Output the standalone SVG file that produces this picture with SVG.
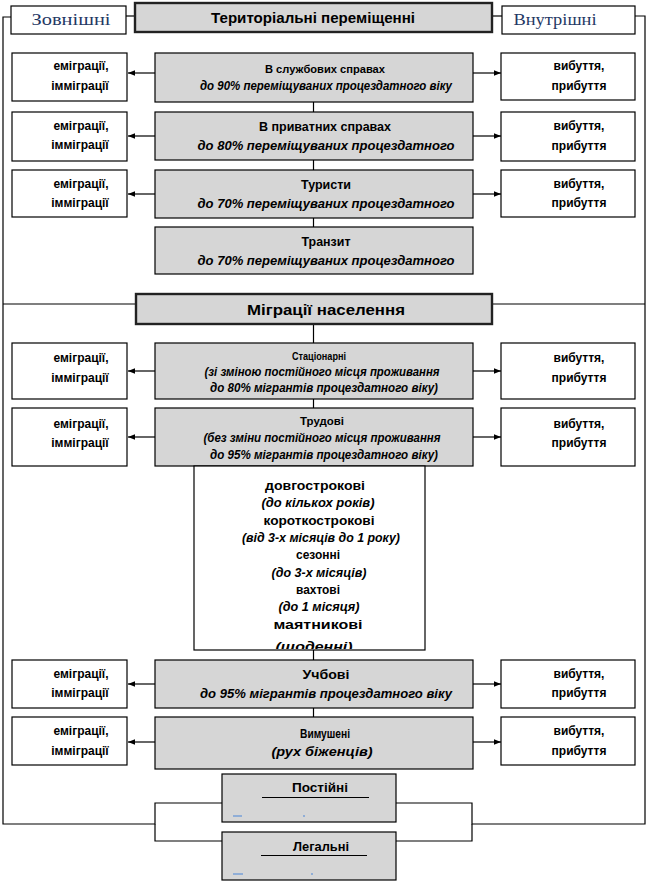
<svg xmlns="http://www.w3.org/2000/svg" width="646" height="884" viewBox="0 0 646 884">
<defs>
<style>
.w{fill:#fff;stroke:#000;stroke-width:1.2}
.g{fill:#d6d6d6;stroke:#000;stroke-width:1.2}
.t{fill:#d6d6d6;stroke:#222;stroke-width:2.4}
.ln{fill:none;stroke:#000;stroke-width:1.2}
.b{font-family:"Liberation Sans",Arial,sans-serif;font-weight:bold;font-size:12px;fill:#000;text-anchor:middle}
.s{font-size:10px}
.i{font-family:"Liberation Sans",Arial,sans-serif;font-weight:bold;font-style:italic;font-size:12px;fill:#000;text-anchor:middle}
.h{font-family:"Liberation Sans",Arial,sans-serif;font-weight:bold;font-size:14px;fill:#000;text-anchor:middle}
.v{font-family:"Liberation Serif","Times New Roman",serif;font-size:16px;fill:#1f3864;text-anchor:middle}
.bl{fill:#4a86d8}
</style>
<marker id="ar" viewBox="0 0 10 10" refX="10" refY="5" markerWidth="6" markerHeight="6" orient="auto">
<path d="M0,1 L10,5 L0,9 z" fill="#000"/>
</marker>
<clipPath id="subclip"><rect x="194" y="466" width="231" height="183"/></clipPath>
</defs>

<g id="connectors">
<path class="ln" d="M11,17 H3 V824 H155 V803 H222"/>
<path class="ln" d="M155,824 V841 H222"/>
<path class="ln" d="M126,16 H135"/>
<path class="ln" d="M492,16 H502"/>
<path class="ln" d="M635,16 H645 V824 H472 V803 H396"/>
<path class="ln" d="M472,824 V841 H396"/>
<path class="ln" d="M3,304 H136"/>
<path class="ln" d="M492,304 H645"/>
<path class="ln" d="M313.5,102 V112 M313.5,160 V170 M313.5,218 V227 M313.5,324 V343 M313.5,399 V408 M313.5,650 V660 M313.5,708 V717"/>
<g class="ln" marker-end="url(#ar)">
<path d="M155,73 H128"/><path d="M473,73 H501"/>
<path d="M155,136 H128"/><path d="M473,136 H501"/>
<path d="M155,194 H128"/><path d="M473,194 H501"/>
<path d="M155,371 H128"/><path d="M473,371 H501"/>
<path d="M155,437 H128"/><path d="M473,437 H501"/>
<path d="M155,684 H128"/><path d="M473,684 H501"/>
<path d="M155,742 H128"/><path d="M473,742 H501"/>
</g>
</g>

<g id="title-territorial"><rect class="t" x="135" y="3" width="357" height="29"/><text class="h" x="313" y="23" textLength="204" lengthAdjust="spacingAndGlyphs">Територіальні переміщенні</text></g>
<g id="external"><rect class="w" x="11" y="6" width="115" height="28"/><text class="v" x="71" y="25" textLength="79" lengthAdjust="spacingAndGlyphs">Зовнішні</text></g>
<g id="internal"><rect class="w" x="502" y="6" width="133" height="28"/><text class="v" x="555" y="25" textLength="83" lengthAdjust="spacingAndGlyphs">Внутрішні</text></g>

<g id="row1-left"><rect class="w" x="12" y="53" width="115" height="48"/><text class="b" x="81" y="70">еміграції,</text><text class="b" x="80" y="90">імміграції</text></g>
<g id="row1"><rect class="g" x="155" y="53" width="318" height="49"/><text class="b s" x="325" y="73" textLength="120" lengthAdjust="spacingAndGlyphs">В службових  справах</text><text class="i s" x="326" y="90" textLength="252" lengthAdjust="spacingAndGlyphs">до 90% переміщуваних  процездатного  віку</text></g>
<g id="row1-right"><rect class="w" x="501" y="53" width="134" height="47"/><text class="b" x="579" y="70">вибуття,</text><text class="b" x="579" y="90">прибуття</text></g>

<g id="row2-left"><rect class="w" x="12" y="112" width="115" height="49"/><text class="b" x="81" y="130">еміграції,</text><text class="b" x="80" y="149">імміграції</text></g>
<g id="row2"><rect class="g" x="155" y="112" width="318" height="48"/><text class="b" x="325" y="131" textLength="132" lengthAdjust="spacingAndGlyphs">В приватних справах</text><text class="i" x="326" y="150" textLength="257" lengthAdjust="spacingAndGlyphs">до 80% переміщуваних процездатного</text></g>
<g id="row2-right"><rect class="w" x="501" y="112" width="134" height="49"/><text class="b" x="579" y="130">вибуття,</text><text class="b" x="579" y="150">прибуття</text></g>

<g id="row3-left"><rect class="w" x="12" y="170" width="115" height="47"/><text class="b" x="81" y="188">еміграції,</text><text class="b" x="80" y="207">імміграції</text></g>
<g id="row3"><rect class="g" x="155" y="170" width="318" height="48"/><text class="b" x="326" y="189" textLength="50" lengthAdjust="spacingAndGlyphs">Туристи</text><text class="i" x="326" y="208" textLength="257" lengthAdjust="spacingAndGlyphs">до 70% переміщуваних процездатного</text></g>
<g id="row3-right"><rect class="w" x="501" y="170" width="134" height="47"/><text class="b" x="579" y="188">вибуття,</text><text class="b" x="579" y="207">прибуття</text></g>

<g id="transit"><rect class="g" x="155" y="227" width="318" height="47"/><text class="b" x="326" y="246" textLength="49" lengthAdjust="spacingAndGlyphs">Транзит</text><text class="i" x="326" y="265" textLength="257" lengthAdjust="spacingAndGlyphs">до 70% переміщуваних процездатного</text></g>

<g id="title-migration"><rect class="t" x="136" y="294" width="356" height="30"/><text class="h" x="326" y="315" textLength="158" lengthAdjust="spacingAndGlyphs">Міграції населення</text></g>

<g id="stat-left"><rect class="w" x="12" y="343" width="115" height="56"/><text class="b" x="81" y="362">еміграції,</text><text class="b" x="80" y="382">імміграції</text></g>
<g id="stat"><rect class="g" x="155" y="343" width="318" height="56"/><text class="b s" x="319" y="360" textLength="54" lengthAdjust="spacingAndGlyphs">Стаціонарні</text><text class="i s" x="322" y="376" textLength="235" lengthAdjust="spacingAndGlyphs">(зі зміною постійного  місця  проживання</text><text class="i s" x="324" y="392" textLength="228" lengthAdjust="spacingAndGlyphs">до 80% мігрантів  процездатного  віку)</text></g>
<g id="stat-right"><rect class="w" x="501" y="343" width="134" height="56"/><text class="b" x="579" y="362">вибуття,</text><text class="b" x="579" y="382">прибуття</text></g>

<g id="labour-left"><rect class="w" x="12" y="408" width="115" height="58"/><text class="b" x="81" y="428">еміграції,</text><text class="b" x="80" y="447">імміграції</text></g>
<g id="labour"><rect class="g" x="155" y="408" width="318" height="58"/><text class="b s" x="322" y="425" textLength="44" lengthAdjust="spacingAndGlyphs">Трудові</text><text class="i s" x="322" y="442" textLength="237" lengthAdjust="spacingAndGlyphs">(без зміни постійного  місця  проживання</text><text class="i s" x="324" y="459" textLength="228" lengthAdjust="spacingAndGlyphs">до 95% мігрантів  процездатного  віку)</text></g>
<g id="labour-right"><rect class="w" x="501" y="408" width="134" height="58"/><text class="b" x="579" y="428">вибуття,</text><text class="b" x="579" y="447">прибуття</text></g>

<g id="labour-types"><rect class="w" x="194" y="466" width="231" height="184"/>
<g clip-path="url(#subclip)">
<text class="b" x="315" y="490" textLength="100" lengthAdjust="spacingAndGlyphs">довгострокові</text>
<text class="i" x="318" y="507" textLength="113" lengthAdjust="spacingAndGlyphs">(до кількох років)</text>
<text class="b" x="319" y="525" textLength="111" lengthAdjust="spacingAndGlyphs">короткострокові</text>
<text class="i" x="321" y="542" textLength="158" lengthAdjust="spacingAndGlyphs">(від 3-х місяців до 1 року)</text>
<text class="b" x="318" y="559" textLength="44" lengthAdjust="spacingAndGlyphs">сезонні</text>
<text class="i" x="319" y="577" textLength="95" lengthAdjust="spacingAndGlyphs">(до 3-х місяців)</text>
<text class="b" x="318" y="594" textLength="44" lengthAdjust="spacingAndGlyphs">вахтові</text>
<text class="i" x="319" y="611" textLength="81" lengthAdjust="spacingAndGlyphs">(до 1 місяця)</text>
<text class="b" x="318" y="629" textLength="89" lengthAdjust="spacingAndGlyphs">маятникові</text>
<text class="i" x="314" y="651" textLength="77" lengthAdjust="spacingAndGlyphs">(щоденні)</text>
</g></g>

<g id="study-left"><rect class="w" x="12" y="660" width="115" height="48"/><text class="b" x="81" y="678">еміграції,</text><text class="b" x="80" y="697">імміграції</text></g>
<g id="study"><rect class="g" x="155" y="660" width="318" height="48"/><text class="b" x="326" y="679" textLength="47" lengthAdjust="spacingAndGlyphs">Учбові</text><text class="i" x="326" y="698" textLength="252" lengthAdjust="spacingAndGlyphs">до 95% мігрантів процездатного віку</text></g>
<g id="study-right"><rect class="w" x="501" y="660" width="134" height="48"/><text class="b" x="579" y="678">вибуття,</text><text class="b" x="579" y="697">прибуття</text></g>

<g id="forced-left"><rect class="w" x="12" y="717" width="115" height="48"/><text class="b" x="81" y="735">еміграції,</text><text class="b" x="80" y="755">імміграції</text></g>
<g id="forced"><rect class="g" x="155" y="717" width="318" height="52"/><text class="b" x="325" y="738" textLength="50" lengthAdjust="spacingAndGlyphs">Вимушені</text><text class="i" x="322" y="756" textLength="101" lengthAdjust="spacingAndGlyphs">(рух біженців)</text></g>
<g id="forced-right"><rect class="w" x="501" y="717" width="134" height="48"/><text class="b" x="579" y="735">вибуття,</text><text class="b" x="579" y="755">прибуття</text></g>

<g id="permanent"><rect class="g" x="222" y="774" width="174" height="48"/><text class="b" x="320" y="792" textLength="56" lengthAdjust="spacingAndGlyphs">Постійні</text><path class="ln" d="M262,797.5 H369"/><rect class="bl" x="233" y="815.5" width="9" height="1"/><rect class="bl" x="303" y="815.5" width="2" height="1"/></g>
<g id="legal"><rect class="g" x="222" y="832" width="174" height="48"/><text class="b" x="321" y="851" textLength="56" lengthAdjust="spacingAndGlyphs">Легальні</text><path class="ln" d="M261,855.5 H367"/><rect class="bl" x="233" y="873.5" width="10" height="1"/><rect class="bl" x="311" y="873.5" width="2" height="1"/></g>
</svg>
